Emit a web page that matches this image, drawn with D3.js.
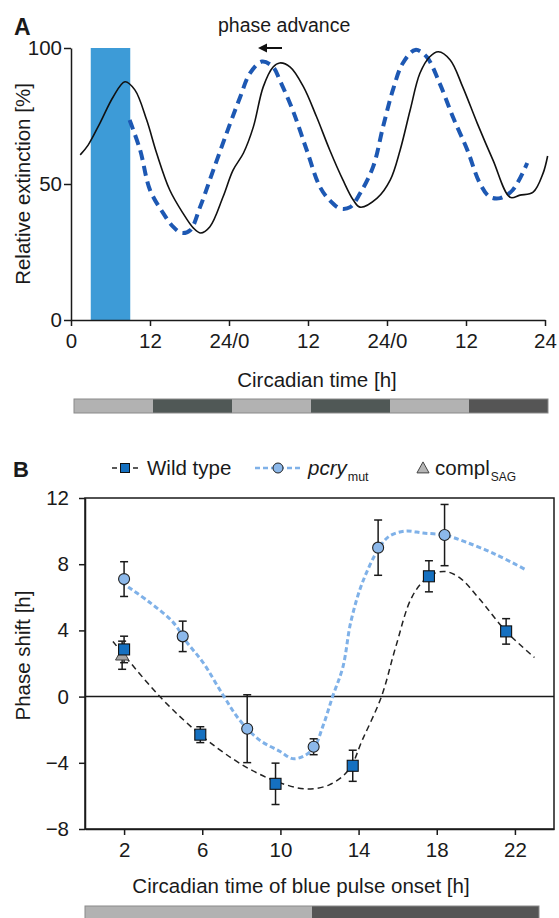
<!DOCTYPE html>
<html><head><meta charset="utf-8">
<script src="https://cdn.jsdelivr.net/npm/d3@7"></script>
<style>
body{margin:0;background:#fff}
svg{display:block}
text{font-family:"Liberation Sans",Arial,Helvetica,sans-serif;fill:#1a1a1a}
</style>
</head><body>
<svg id="c" width="559" height="918"></svg>
<script>
// ---------- DATA: panel A ----------
const aTickValues = [0, 12, 24, 36, 48, 60, 72];
const aTickLabels = ["0", "12", "24/0", "12", "24/0", "12", "24"];
const aYTicks = [0, 50, 100];
const bluePulse = [3, 9];            // hours, blue light pulse
const wildTypeTrace = [
  [1.4,60.7],[2.6,64.3],[4.4,72.4],[6.4,82],[8.2,87.6],[9.7,84.6],[11.5,73.5],[13,61.4],
  [15,47.8],[17,39.3],[18.6,33.8],[19.7,32],[21.1,34.3],[23.1,45.3],[24.6,55],[26.2,61.4],
  [27.7,71],[29.2,85.7],[30.7,93],[31.7,94.5],[33.3,93],[35.3,85.8],[37.3,74.7],[39.3,62.5],
  [41.3,51.5],[42.9,44],[43.9,41.5],[46.5,44.8],[48.5,51.5],[50,62.5],[51.5,77],[53,90.7],
  [54.5,96.8],[55.8,98.6],[57.6,95.6],[59.5,85.7],[61.7,72.4],[64.1,58.8],[66.7,45.1],
  [68.2,45.9],[70.2,47],[71.7,53.9],[72.4,60.3]
];
const pulsedTrace = [
  [8.9,73.5],[10.5,62.5],[12,47.8],[14,39.3],[15.5,34.3],[16.8,32],[18.1,33],[19.6,41.5],
  [21.6,55],[24.2,72.4],[25.7,82],[27.2,90.8],[29,95],[30.7,93],[31.7,88.2],[33.7,77],
  [35.8,62.5],[37.8,49],[39.3,44],[40.9,41],[42.4,41.5],[43.9,46.5],[45.9,56.4],[47.4,71],
  [48.9,84.6],[50.4,94.4],[52.3,99.3],[54,96.8],[56,87],[58,74.7],[60.2,62.5],[62.1,50.3],
  [63.6,45.3],[65.2,44.8],[67.1,47.8],[69.3,57.7]
];
const aPhaseBar = [[0,12,"light"],[12,24,"dark"],[24,36,"light"],[36,48,"dark"],[48,60,"light"],[60,72,"dark2"]];

// ---------- DATA: panel B ----------
const bXTicks = [2, 6, 10, 14, 18, 22];
const bYTicks = [-8, -4, 0, 4, 8, 12];
const wtOnset = [2, 5.9, 9.75, 13.7, 17.6, 21.55];
const wtShift = [2.85, -2.3, -5.27, -4.18, 7.27, 3.94];
const wtErr   = [0.8, 0.48, 1.25, 0.94, 0.94, 0.77];
const mutOnset = [2, 5, 8.3, 11.7, 15.0, 18.4];
const mutShift = [7.1, 3.64, -1.94, -3.03, 9.0, 9.76];
const mutErr   = [1.05, 0.92, 2.05, 0.48, 1.67, 1.85];
const complOnset = [1.9];
const complShift = [2.5];
const complErr   = [0.85];
const wtFit = [
  [1.43,3.33],[3.83,0],[5.9,-2.3],[7.56,-3.76],[8.78,-4.6],[9.96,-5.2],[11.3,-5.58],[12.5,-5.33],
  [13.5,-4.42],[14.2,-2.6],[15.17,0],[15.9,3.0],[16.75,6.06],[17.6,7.27],[18.4,7.56],[19.15,7.2],
  [20.2,5.88],[21.55,3.94],[23.0,2.36]
];
const mutFit = [
  [1.87,6.9],[3.3,5.7],[4.5,4.5],[5.2,3.3],[6.04,2.06],[7.06,0.1],[7.9,-1.4],[8.9,-2.6],[9.96,-3.3],
  [10.7,-3.76],[11.65,-3.2],[12.17,-1.8],[12.67,0],[13.2,1.8],[13.6,4.5],[14.2,6.9],[15.06,9.0],
  [15.58,9.7],[16.4,10.0],[17.3,9.88],[18.4,9.76],[19.5,9.33],[21.0,8.6],[22.5,7.7]
];
const bPhaseBar = [[0,12,"light"],[12,24,"dark2"]];

// ---------- DRAW ----------
const svg = d3.select("#c");
const FS = 20.5;
const shade = {light:"#b2b2b2", dark:"#505856", dark2:"#555555"};

function styleAxis(g, fs){
  g.attr("font-family", null).attr("font-size", null);
  g.select(".domain").attr("stroke","#1a1a1a").attr("stroke-width",1.5);
  g.selectAll(".tick line").attr("stroke","#1a1a1a").attr("stroke-width",1.5);
  g.selectAll(".tick text").style("font-size", fs+"px").attr("fill","#1a1a1a");
}

// Panel A
const xA = d3.scaleLinear().domain([0,72]).range([71,545]);
const yA = d3.scaleLinear().domain([0,100]).range([320,48]);

svg.append("rect")
  .attr("x", xA(bluePulse[0])).attr("width", xA(bluePulse[1]) - xA(bluePulse[0]))
  .attr("y", yA(100)).attr("height", yA(0) - yA(100))
  .attr("fill", "#3d9bd7");

const lineA = d3.line().x(d=>xA(d[0])).y(d=>yA(d[1])).curve(d3.curveCatmullRom.alpha(0.5));
svg.append("path").attr("d", lineA(pulsedTrace)).attr("fill","none")
  .attr("stroke","#1d58b3").attr("stroke-width",4).attr("stroke-dasharray","10,6");
svg.append("path").attr("d", lineA(wildTypeTrace)).attr("fill","none")
  .attr("stroke","#111").attr("stroke-width",1.6);

const gAy = svg.append("g").attr("transform",`translate(${xA(0)},0)`)
  .call(d3.axisLeft(yA).tickValues(aYTicks).tickSize(7).tickPadding(2).tickSizeOuter(0));
styleAxis(gAy, FS);
const gAx = svg.append("g").attr("transform",`translate(0,${yA(0)})`)
  .call(d3.axisBottom(xA).tickValues(aTickValues).tickFormat((d,i)=>aTickLabels[i])
    .tickSize(6).tickPadding(7).tickSizeOuter(0));
styleAxis(gAx, FS);

svg.append("text").attr("x",14).attr("y",35).style("font-size","23px").style("font-weight","bold").text("A");
svg.append("text").attr("x",218).attr("y",32).style("font-size","19.5px").text("phase advance");
svg.append("line").attr("x1",282).attr("x2",265).attr("y1",48).attr("y2",48).attr("stroke","#111").attr("stroke-width",2);
svg.append("path").attr("d","M258,48 L267,43.5 L267,52.5 Z").attr("fill","#111");

svg.append("text").attr("transform",`translate(30,${(yA(0)+yA(100))/2}) rotate(-90)`)
  .attr("text-anchor","middle").style("font-size",FS+"px").text("Relative extinction [%]");
svg.append("text").attr("x",317).attr("y",387).attr("text-anchor","middle")
  .style("font-size",FS+"px").text("Circadian time [h]");

const xBarA = d3.scaleLinear().domain([0,72]).range([74,548]);
svg.append("g").selectAll("rect").data(aPhaseBar).join("rect")
  .attr("x", d=>xBarA(d[0])).attr("width", d=>xBarA(d[1])-xBarA(d[0]))
  .attr("y",399).attr("height",14).attr("fill", d=>shade[d[2]]);
svg.append("rect").attr("x",xBarA(0)).attr("width",xBarA(72)-xBarA(0)).attr("y",399).attr("height",14)
  .attr("fill","none").attr("stroke","#8a8a8a").attr("stroke-width",1);

// Panel B
const xB = d3.scaleLinear().domain([0,24]).range([85,554]);
const yB = d3.scaleLinear().domain([-8,12]).range([829,498]);

svg.append("rect").attr("x",xB(0)).attr("y",yB(12)).attr("width",xB(24)-xB(0)).attr("height",yB(-8)-yB(12))
  .attr("fill","none").attr("stroke","#1a1a1a").attr("stroke-width",1.5);
svg.append("line").attr("x1",xB(0)).attr("x2",xB(24)).attr("y1",yB(0)).attr("y2",yB(0))
  .attr("stroke","#1a1a1a").attr("stroke-width",1.5);

const gBy = svg.append("g").attr("transform",`translate(${xB(0)},0)`)
  .call(d3.axisLeft(yB).tickValues(bYTicks).tickSize(6).tickPadding(10).tickSizeOuter(0));
styleAxis(gBy, FS);
const gBx = svg.append("g").attr("transform",`translate(0,${yB(-8)})`)
  .call(d3.axisBottom(xB).tickValues(bXTicks).tickSize(6).tickPadding(7).tickSizeOuter(0));
styleAxis(gBx, FS);

const lineB = d3.line().x(d=>xB(d[0])).y(d=>yB(d[1])).curve(d3.curveCatmullRom.alpha(0.5));
svg.append("path").attr("d", lineB(mutFit)).attr("fill","none")
  .attr("stroke","#7fb1e8").attr("stroke-width",3).attr("stroke-dasharray","5,3");
svg.append("path").attr("d", lineB(wtFit)).attr("fill","none")
  .attr("stroke","#222").attr("stroke-width",1.5).attr("stroke-dasharray","6,4");

function errorBars(xs, ys, es){
  const g = svg.append("g").attr("stroke","#1a1a1a").attr("stroke-width",1.5);
  xs.forEach((x,i)=>{
    const px = xB(x), y1 = yB(ys[i]+es[i]), y2 = yB(ys[i]-es[i]);
    g.append("line").attr("x1",px).attr("x2",px).attr("y1",y1).attr("y2",y2);
    g.append("line").attr("x1",px-4).attr("x2",px+4).attr("y1",y1).attr("y2",y1);
    g.append("line").attr("x1",px-4).attr("x2",px+4).attr("y1",y2).attr("y2",y2);
  });
}
errorBars(complOnset, complShift, complErr);
errorBars(mutOnset, mutShift, mutErr);
errorBars(wtOnset, wtShift, wtErr);

const tri = s => `M0,${-s*0.6} L${s*0.55},${s*0.4} L${-s*0.55},${s*0.4} Z`;
svg.append("g").selectAll("path").data(complOnset).join("path")
  .attr("transform",(d,i)=>`translate(${xB(d)},${yB(complShift[i])})`)
  .attr("d", tri(12)).attr("fill","#a3a3a3").attr("stroke","#444").attr("stroke-width",1);
svg.append("g").selectAll("circle").data(mutOnset).join("circle")
  .attr("cx",d=>xB(d)).attr("cy",(d,i)=>yB(mutShift[i])).attr("r",5.5)
  .attr("fill","#8cb8ea").attr("stroke","#222").attr("stroke-width",1.1);
svg.append("g").selectAll("rect").data(wtOnset).join("rect")
  .attr("x",d=>xB(d)-5.5).attr("y",(d,i)=>yB(wtShift[i])-5.5).attr("width",11).attr("height",11)
  .attr("fill","#1570c0").attr("stroke","#111").attr("stroke-width",1.1);

svg.append("text").attr("x",13).attr("y",477).style("font-size","22px").style("font-weight","bold").text("B");
svg.append("text").attr("transform",`translate(30,${(yB(-8)+yB(12))/2 - 8}) rotate(-90)`)
  .attr("text-anchor","middle").style("font-size",FS+"px").text("Phase shift [h]");
svg.append("text").attr("x",301).attr("y",893).attr("text-anchor","middle")
  .style("font-size",FS+"px").text("Circadian time of blue pulse onset [h]");

// legend
const LY = 468, LB = 475;
const lg = svg.append("g");
lg.append("line").attr("x1",112).attr("x2",117).attr("y1",LY).attr("y2",LY).attr("stroke","#222").attr("stroke-width",1.5);
lg.append("line").attr("x1",133).attr("x2",138).attr("y1",LY).attr("y2",LY).attr("stroke","#222").attr("stroke-width",1.5);
lg.append("rect").attr("x",120.5).attr("y",LY-4.5).attr("width",9).attr("height",9).attr("fill","#1570c0").attr("stroke","#111");
lg.append("text").attr("x",147).attr("y",LB).style("font-size",FS+"px").text("Wild type");

lg.append("line").attr("x1",255).attr("x2",300).attr("y1",LY).attr("y2",LY).attr("stroke","#7fb1e8").attr("stroke-width",2.5).attr("stroke-dasharray","5,3");
lg.append("circle").attr("cx",278).attr("cy",LY).attr("r",5).attr("fill","#8cb8ea").attr("stroke","#222");
const t1 = lg.append("text").attr("x",308).attr("y",LB).style("font-size",FS+"px");
t1.append("tspan").style("font-style","italic").text("pcry");
t1.append("tspan").attr("dx",1).attr("dy",6).style("font-size","12.5px").text("mut");

lg.append("path").attr("transform",`translate(423,${LY+0.5})`).attr("d",tri(11)).attr("fill","#b5b5b5").attr("stroke","#444");
const t2 = lg.append("text").attr("x",435).attr("y",LB).style("font-size",FS+"px");
t2.append("tspan").text("compl");
t2.append("tspan").attr("dx",1).attr("dy",6).style("font-size","12px").text("SAG");

const xBarB = d3.scaleLinear().domain([0,24]).range([85,539]);
svg.append("g").selectAll("rect").data(bPhaseBar).join("rect")
  .attr("x", d=>xBarB(d[0])).attr("width", d=>xBarB(d[1])-xBarB(d[0]))
  .attr("y",906).attr("height",16).attr("fill", d=>shade[d[2]]);
svg.append("rect").attr("x",xBarB(0)).attr("width",xBarB(24)-xBarB(0)).attr("y",906).attr("height",16)
  .attr("fill","none").attr("stroke","#8a8a8a").attr("stroke-width",1);
</script>
</body></html>
